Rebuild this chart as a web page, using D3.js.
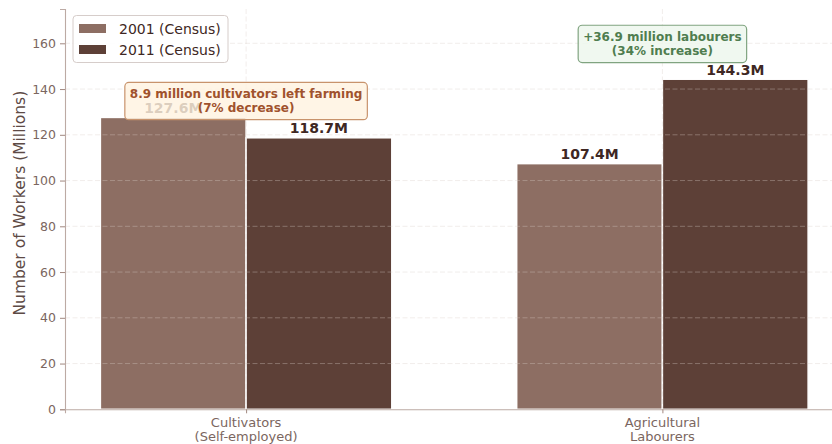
<!DOCTYPE html>
<html>
<head>
<meta charset="utf-8">
<script src="https://cdn.jsdelivr.net/npm/d3@7"></script>
<style>
  html, body { margin: 0; padding: 0; background: #ffffff; overflow: hidden; }
  svg { display: block; font-family: "DejaVu Sans", sans-serif; }
</style>
</head>
<body>
<svg id="chart" width="832" height="444"></svg>
<script>
// Workforce categories and census values (millions of workers)
const categories = [["Cultivators", "(Self-employed)"], ["Agricultural", "Labourers"]];
const seriesNames = ["2001 (Census)", "2011 (Census)"];
const values2001 = [127.6, 107.4];
const values2011 = [118.7, 144.3];
const yTicks = [0, 20, 40, 60, 80, 100, 120, 140, 160];
const barColors = ["#8d6e63", "#5d4037"];

// Change callouts: category index, vertical anchor (millions), text lines
const callouts = [
  { cat: 0, at: 134.6, lines: ["8.9 million cultivators left farming", "(7% decrease)"],
    text: "#a0522d", fill: "#fff3e0", stroke: "#c8936c" },
  { cat: 1, at: 159.6, lines: ["+36.9 million labourers", "(34% increase)"],
    text: "#4f7d4f", fill: "#edf6ed", stroke: "#80a480" }
];

const svg = d3.select("#chart");
const barWidth = 0.35;

const x = d3.scaleLinear().domain([-0.435, 1.435]).range([65, 843.5]);
const y = d3.scaleLinear().domain([0, 175]).range([409.3, 9]);

const series = [values2001, values2011];
const bars = [];
series.forEach((vals, s) => {
  vals.forEach((v, i) => {
    const center = i + (s === 0 ? -barWidth / 2 : barWidth / 2);
    bars.push({ s, i, v, center });
  });
});

// Bars
svg.append("g").selectAll("rect").data(bars).join("rect")
  .attr("x", d => x(d.center - barWidth / 2))
  .attr("width", d => x(d.center + barWidth / 2) - x(d.center - barWidth / 2))
  .attr("y", d => y(d.v))
  .attr("height", d => y(0) - y(d.v))
  .attr("fill", d => barColors[d.s])
  .attr("stroke", "#ffffff")
  .attr("stroke-width", 1.5);

// Dashed grid on top of bars
const grid = svg.append("g").attr("stroke", "#d7ccc8").attr("stroke-opacity", 0.45)
  .attr("stroke-dasharray", "5,2.5").attr("stroke-width", 0.8);
grid.selectAll("line.h").data(yTicks.slice(1)).join("line")
  .attr("x1", x.range()[0]).attr("x2", x.range()[1])
  .attr("y1", d => y(d)).attr("y2", d => y(d));
grid.selectAll("line.v").data(categories.map((c, i) => i)).join("line")
  .attr("x1", d => x(d)).attr("x2", d => x(d))
  .attr("y1", y.range()[1]).attr("y2", y(0));

// Axes
const yAxis = svg.append("g").attr("transform", `translate(${x.range()[0]},0)`)
  .call(d3.axisLeft(y).tickValues(yTicks).tickSize(5).tickPadding(4));
const xAxis = svg.append("g").attr("transform", `translate(0,${y(0)})`)
  .call(d3.axisBottom(x).tickValues(categories.map((c, i) => i)).tickSize(4).tickFormat(""));
[yAxis, xAxis].forEach(a => {
  a.select(".domain").attr("stroke", "#bcaaa4").attr("stroke-width", 1.1);
  a.selectAll(".tick line").attr("stroke", "#a1887f");
});
yAxis.selectAll(".tick text").attr("fill", "#7b6660").style("font-size", "12.5px")
  .style("font-family", "DejaVu Sans");

// Category labels (two lines)
const catLabels = svg.append("g");
categories.forEach((lines, i) => {
  const t = catLabels.append("text").attr("text-anchor", "middle")
    .attr("fill", "#7b6660").style("font-size", "13px");
  lines.forEach((ln, k) => {
    t.append("tspan").attr("x", x(i)).attr("y", y(0) + 18 + k * 13.8).text(ln);
  });
});

// Y axis title
svg.append("text")
  .attr("transform", `translate(25,${(y.range()[0] + y.range()[1]) / 2 - 6}) rotate(-90)`)
  .attr("text-anchor", "middle").attr("fill", "#5d4a45")
  .style("font-size", "15.5px").text("Number of Workers (Millions)");

// Value labels
svg.append("g").selectAll("text").data(bars).join("text")
  .attr("x", d => x(d.center)).attr("y", d => y(d.v) - 4.5)
  .attr("text-anchor", "middle").attr("fill", "#3e2723")
  .style("font-size", "14px").style("font-weight", "bold")
  .text(d => d.v.toFixed(1) + "M");

// Callout boxes
callouts.forEach(c => {
  const g = svg.append("g");
  const rect = g.append("rect");
  const t = g.append("text").attr("text-anchor", "middle").attr("fill", c.text)
    .style("font-size", "12px").style("font-weight", "bold");
  const cy = y(c.at);
  c.lines.forEach((ln, k) => {
    t.append("tspan").attr("x", x(c.cat)).attr("y", cy - 3.5 + k * 14.3).text(ln);
  });
  const bb = t.node().getBBox();
  const pad = 5;
  rect.attr("x", bb.x - pad).attr("y", bb.y - pad + 0.5)
    .attr("width", bb.width + 2 * pad).attr("height", bb.height + 2 * pad - 1)
    .attr("rx", 4).attr("fill", c.fill).attr("fill-opacity", 0.82)
    .attr("stroke", c.stroke).attr("stroke-width", 1.2);
});

// Legend
const legend = svg.append("g");
legend.append("rect").attr("x", 73).attr("y", 15.5).attr("width", 155).attr("height", 47)
  .attr("rx", 3.5).attr("fill", "#ffffff").attr("fill-opacity", 0.9)
  .attr("stroke", "#d6cdca").attr("stroke-width", 1);
seriesNames.forEach((name, k) => {
  legend.append("rect").attr("x", 79).attr("y", 24 + k * 21).attr("width", 27).attr("height", 9)
    .attr("fill", barColors[k]);
  legend.append("text").attr("x", 119).attr("y", 33.6 + k * 21)
    .attr("fill", "#3e2723").style("font-size", "14px").text(name);
});
</script>
</body>
</html>
